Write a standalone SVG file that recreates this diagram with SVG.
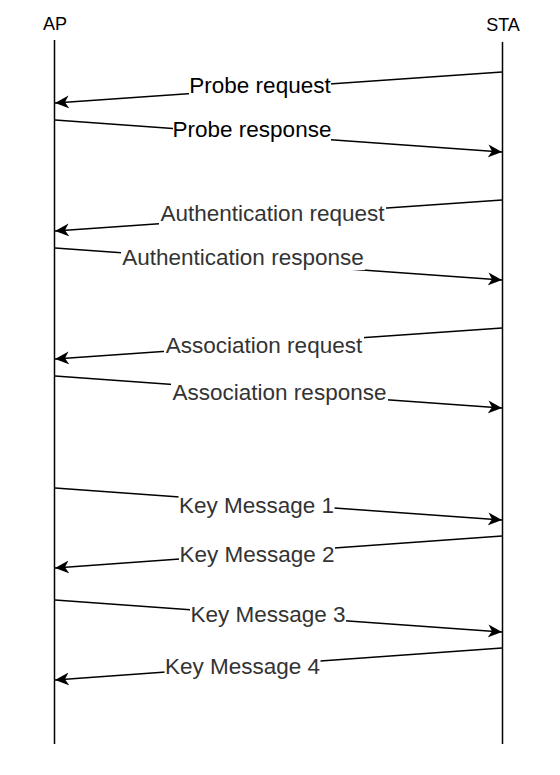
<svg xmlns="http://www.w3.org/2000/svg" width="560" height="775" viewBox="0 0 560 775">
<style>
.life{stroke:#000;stroke-width:1.5;fill:none}
.head{font-family:"Liberation Sans",Arial,Helvetica,sans-serif;font-size:18px;fill:#000;text-anchor:middle}
.msg{stroke:#000;stroke-width:1.5;fill:none;marker-end:url(#arr)}
.bg{fill:#fff;stroke:none}
.lbl{font-family:"Liberation Sans",Arial,Helvetica,sans-serif;font-size:22.5px;fill:#333;text-anchor:middle}
.lbl.dark{fill:#000}
</style>
<defs>
<marker id="arr" markerUnits="userSpaceOnUse" markerWidth="16" markerHeight="14" viewBox="0 0 16 14" refX="14" refY="7" orient="auto">
<path d="M14,7 L0,0.5 L4,7 L0,13.5 Z" fill="#000"/>
</marker>
</defs>
<rect width="560" height="775" fill="#fff"/>
<g id="AP">
<text class="head" x="55" y="30">AP</text>
<line class="life" x1="54.5" y1="40" x2="54.5" y2="744"/>
</g>
<g id="STA">
<text class="head" x="503" y="31">STA</text>
<line class="life" x1="502.5" y1="42" x2="502.5" y2="744"/>
</g>
<g id="connectors">
<g id="m1">
<line class="msg" x1="502" y1="72" x2="55" y2="103"/>
<rect class="bg" x="189" y="74" width="142" height="24"/>
<text class="lbl dark" x="260" y="93">Probe request</text>
</g>
<g id="m2">
<line class="msg" x1="55" y1="120" x2="502" y2="152"/>
<rect class="bg" x="173" y="118" width="158" height="24"/>
<text class="lbl dark" x="252" y="137">Probe response</text>
</g>
<g id="m3">
<line class="msg" x1="502" y1="200" x2="55" y2="231"/>
<rect class="bg" x="159" y="202" width="227" height="24"/>
<text class="lbl" x="272.5" y="221">Authentication request</text>
</g>
<g id="m4">
<line class="msg" x1="55" y1="248" x2="502" y2="280"/>
<rect class="bg" x="121" y="246" width="244" height="24"/>
<text class="lbl" x="243" y="265">Authentication response</text>
</g>
<g id="m5">
<line class="msg" x1="502" y1="328" x2="55" y2="359"/>
<rect class="bg" x="164" y="334" width="200" height="24"/>
<text class="lbl" x="264" y="353">Association request</text>
</g>
<g id="m6">
<line class="msg" x1="55" y1="376" x2="502" y2="408"/>
<rect class="bg" x="171" y="381" width="217" height="24"/>
<text class="lbl" x="279.5" y="400">Association response</text>
</g>
<g id="m7">
<line class="msg" x1="55" y1="488" x2="502" y2="520"/>
<rect class="bg" x="178.5" y="494" width="156" height="24"/>
<text class="lbl" x="256.5" y="513">Key Message 1</text>
</g>
<g id="m8">
<line class="msg" x1="502" y1="536" x2="55" y2="568"/>
<rect class="bg" x="179" y="543" width="156" height="24"/>
<text class="lbl" x="257" y="562">Key Message 2</text>
</g>
<g id="m9">
<line class="msg" x1="55" y1="600" x2="502" y2="632"/>
<rect class="bg" x="190" y="603" width="156" height="24"/>
<text class="lbl" x="268" y="622">Key Message 3</text>
</g>
<g id="m10">
<line class="msg" x1="502" y1="648" x2="55" y2="680"/>
<rect class="bg" x="164.5" y="655" width="156" height="24"/>
<text class="lbl" x="242.5" y="674">Key Message 4</text>
</g>
</g>
</svg>
